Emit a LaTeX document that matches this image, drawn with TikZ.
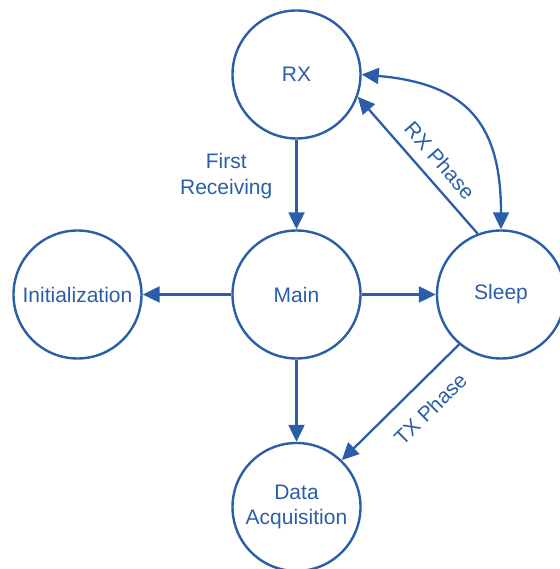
\documentclass[tikz,border=0pt]{standalone}
\usepackage{fontspec}
\setmainfont{Liberation Sans}
\usetikzlibrary{arrows.meta}
\definecolor{stateblue}{RGB}{42,94,168}
\begin{document}
\begin{tikzpicture}[x=1pt,y=1pt,
  >={Triangle[length=17pt,width=16pt]},
  state/.style={circle, draw=stateblue, line width=2.4pt, minimum size=128pt,
    inner sep=0pt, text=stateblue, font=\fontsize{21}{25}\selectfont, align=center},
  link/.style={draw=stateblue, line width=2.3pt, ->},
  tag/.style={text=stateblue, font=\fontsize{21}{26}\selectfont, inner sep=0pt, align=center}]
\useasboundingbox (0,0) rectangle (559,569);

% states
\node[state] (rx)    at (296.5,494.5) {RX};
\node[state] (main)  at (296.5,274.5) {Main};
\node[state] (init)  at (77.5,274.5)  {Initialization};
\node[state] (sleep) at (501,274.5)   {Sleep};
\node[state] (daq)   at (296.5,62)    {Data\\Acquisition};

% transitions
\draw[link] (rx) -- node[tag, pos=0.41, anchor=east, xshift=-23pt] {First\\Receiving} (main);
\draw[link] (main) -- (init);
\draw[link] (main) -- (sleep);
\draw[link] (main) -- (daq);
\draw[link, <->] (rx.east) to[out=-5, in=90, looseness=1.3] (sleep.north);
\draw[link, <-] (rx.-20) -- node[tag, sloped, pos=0.56, anchor=south, inner ysep=11pt] {RX Phase} (sleep.111);
\draw[link, <-] (daq.46) -- node[tag, sloped, pos=0.6, anchor=north, inner ysep=17pt] {TX Phase} (sleep.230);
\end{tikzpicture}
\end{document}
